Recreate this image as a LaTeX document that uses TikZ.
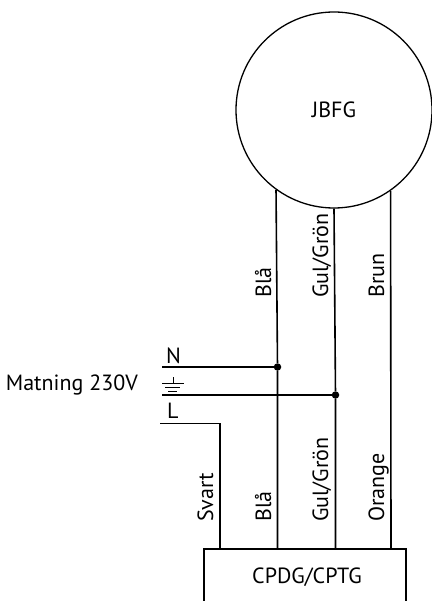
\documentclass[tikz,border=0pt]{standalone}
\usepackage{fontspec}
\setmainfont{PT Sans}
\begin{document}
\begin{tikzpicture}[
    x=1pt, y=-1pt,
    wire/.style={line width=1.6pt},
    dot/.style={circle, fill=black, inner sep=0pt, minimum size=7.5pt},
    label/.style={font=\fontsize{22}{26}\selectfont, inner sep=0pt},
    vlabel/.style={label, rotate=90, anchor=base west}
]
\useasboundingbox (0,0) rectangle (431,601);

% Nodes
\node[circle, draw, line width=1.3pt, minimum size=196pt, inner sep=0pt, label] (jbfg) at (334,110) {JBFG};
\node[label] (cpdg) at (307,577) {CPDG/CPTG};
\node[label, anchor=base east] (matning) at (138,390) {Matning 230V};
\node[label, anchor=base west] (n) at (166,363) {N};
\node[label, anchor=base west] (l) at (167,418) {L};

% Box, open at the bottom
\coordinate (boxbl) at (204,601);
\coordinate (boxtl) at (204,549);
\coordinate (boxtr) at (406,549);
\coordinate (boxbr) at (406,601);
\draw[wire] (boxbl) -- (boxtl) -- (boxtr) -- (boxbr);

% Junctions
\node[dot] (dotn) at (277.5,367) {};
\node[dot] (dotpe) at (335.5,395) {};

% Feed lines
\coordinate (nstart) at (162,367);
\coordinate (pestart) at (162,395);
\coordinate (lstart) at (160,423.5);
\coordinate (lbend) at (220,423.5);
\coordinate (lend) at (220,549);
\draw[wire] (nstart) -- (dotn);
\draw[wire] (pestart) -- (dotpe);
\draw[wire] (lstart) -- (lbend) -- (lend);

% Wires down from the motor
\coordinate (blaend) at (277.5,549);
\coordinate (gulend) at (335.5,549);
\coordinate (brunend) at (391,549);
\draw[wire] (jbfg.234.4) -- (dotn) -- (blaend);
\draw[wire] (jbfg.270) -- (dotpe) -- (gulend);
\draw[wire] (jbfg.305.6) -- (brunend);

% Earth symbol
\coordinate (e0) at (173,377);
\coordinate (e1) at (173,383);
\coordinate (e2l) at (162,383);
\coordinate (e2r) at (184,383);
\coordinate (e3l) at (165,387.5);
\coordinate (e3r) at (180,387.5);
\coordinate (e4l) at (168,391.5);
\coordinate (e4r) at (177,391.5);
\draw[line width=1pt] (e0) -- (e1) (e2l) -- (e2r) (e3l) -- (e3r) (e4l) -- (e4r);

% Upper labels
\node[vlabel] (upbla) at (271,298) {Blå};
\node[vlabel] (upgul) at (328,298) {Gul/Grön};
\node[vlabel] (upbrun) at (384,298) {Brun};

% Lower labels
\node[vlabel] (lowsvart) at (213,522) {Svart};
\node[vlabel] (lowbla) at (271,522) {Blå};
\node[vlabel] (lowgul) at (328,522) {Gul/Grön};
\node[vlabel] (loworange) at (384,522) {Orange};

\end{tikzpicture}
\end{document}
